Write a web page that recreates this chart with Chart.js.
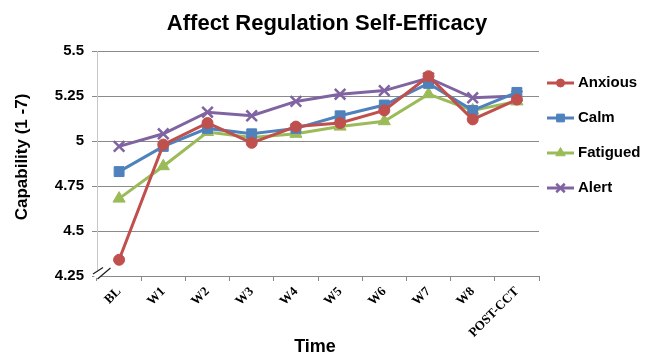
<!DOCTYPE html>
<html>
<head>
<meta charset="utf-8">
<script src="https://cdn.jsdelivr.net/npm/chart.js@4/dist/chart.umd.min.js"></script>
<style>
  html, body { margin: 0; padding: 0; background: #ffffff; }
  #wrap { width: 647px; height: 358px; position: relative; }
</style>
</head>
<body>
<div id="wrap"><canvas id="c" width="647" height="358"></canvas></div>
<script>
// Session labels along the time axis
const timepoints = ['BL', 'W1', 'W2', 'W3', 'W4', 'W5', 'W6', 'W7', 'W8', 'POST-CCT'];

// Mean self-efficacy ratings per mood state
const anxious  = [4.34, 4.98, 5.10, 4.99, 5.08, 5.10, 5.17, 5.36, 5.12, 5.23];
const calm     = [4.83, 4.97, 5.07, 5.04, 5.07, 5.14, 5.20, 5.32, 5.17, 5.27];
const fatigued = [4.68, 4.86, 5.05, 5.02, 5.04, 5.08, 5.11, 5.26, 5.17, 5.22];
const alert    = [4.97, 5.04, 5.16, 5.14, 5.22, 5.26, 5.28, 5.35, 5.24, 5.25];

const yTicks = [4.25, 4.5, 4.75, 5, 5.25, 5.5];

const SANS = '"Liberation Sans", Arial, sans-serif';
const SERIF = '"Liberation Serif", "Times New Roman", serif';

function series(label, data, color, style, radius) {
  return {
    label, data,
    borderColor: color,
    backgroundColor: color,
    borderWidth: 3,
    pointStyle: style,
    pointRadius: radius,
    pointHoverRadius: radius,
    pointBorderColor: color,
    pointBackgroundColor: color,
    pointBorderWidth: style === 'crossRot' ? 2.5 : 1,
    tension: 0
  };
}

const datasets = [
  series('Anxious', anxious, '#C0504D', 'circle', 5.5),
  series('Calm', calm, '#4F81BD', 'rect', 7),
  series('Fatigued', fatigued, '#9BBB59', 'triangle', 7),
  series('Alert', alert, '#8064A2', 'crossRot', 7.5)
];

// Legend marker: a short line with the series' point symbol on it
function legendMarker(ctx, ds, x, y) {
  ctx.save();
  ctx.strokeStyle = ds.borderColor;
  ctx.fillStyle = ds.backgroundColor;
  ctx.lineWidth = 3;
  ctx.beginPath();
  ctx.moveTo(x, y);
  ctx.lineTo(x + 27, y);
  ctx.stroke();
  ctx.lineWidth = ds.pointBorderWidth;
  Chart.helpers.drawPoint(ctx, {
    pointStyle: ds.pointStyle,
    radius: ds.pointRadius - 1.5,
    borderWidth: ds.pointBorderWidth,
    rotation: 0
  }, x + 13.5, y);
  ctx.restore();
}

// Titles, legend and the axis-break marks are painted on top of the chart
const decorations = {
  id: 'decorations',
  afterDraw(chart) {
    const ctx = chart.ctx;
    const a = chart.chartArea;
    ctx.save();

    // chart title
    ctx.fillStyle = '#000';
    ctx.font = 'bold 22px ' + SANS;
    ctx.textAlign = 'center';
    ctx.textBaseline = 'middle';
    ctx.fillText('Affect Regulation Self-Efficacy', 327, 24);

    // x-axis title
    ctx.font = 'bold 18px ' + SANS;
    ctx.fillText('Time', 315, 347);

    // y-axis title
    ctx.save();
    ctx.translate(22, 157);
    ctx.rotate(-Math.PI / 2);
    ctx.font = 'bold 17px ' + SANS;
    ctx.fillText('Capability (1 -7)', 0, 0);
    ctx.restore();

    // axis break
    ctx.fillStyle = '#fff';
    ctx.beginPath();
    ctx.moveTo(a.left - 5, a.bottom - 1);
    ctx.lineTo(a.left + 5, a.bottom - 9);
    ctx.lineTo(a.left + 14, a.bottom - 8);
    ctx.lineTo(a.left + 1, a.bottom + 3);
    ctx.closePath();
    ctx.fill();
    ctx.strokeStyle = '#222';
    ctx.lineWidth = 1.3;
    ctx.beginPath();
    ctx.moveTo(a.left - 4, a.bottom - 2);
    ctx.lineTo(a.left + 6, a.bottom - 8.5);
    ctx.moveTo(a.left + 0.5, a.bottom + 3);
    ctx.lineTo(a.left + 13.5, a.bottom - 8);
    ctx.stroke();

    // legend
    const lx = 547, ly0 = 83, step = 35;
    chart.data.datasets.forEach((ds, i) => {
      const y = ly0 + i * step;
      legendMarker(ctx, ds, lx, y);
      ctx.fillStyle = '#000';
      ctx.font = 'bold 15px ' + SANS;
      ctx.textAlign = 'left';
      ctx.textBaseline = 'middle';
      ctx.fillText(ds.label, lx + 31, y);
    });
    ctx.restore();
  }
};

new Chart(document.getElementById('c'), {
  type: 'line',
  data: { labels: timepoints, datasets },
  plugins: [decorations],
  options: {
    responsive: false,
    animation: false,
    devicePixelRatio: 1,
    layout: { padding: { top: 51, right: 108, bottom: 0, left: 0 } },
    plugins: {
      legend: { display: false },
      title: { display: false },
      tooltip: { enabled: false }
    },
    scales: {
      x: {
        offset: true,
        grid: {
          offset: true,
          drawOnChartArea: false,
          drawTicks: true,
          tickLength: 5,
          color: '#888'
        },
        border: { color: '#888', width: 1 },
        ticks: {
          color: '#000',
          font: { family: SERIF, size: 13, weight: 'bold' },
          minRotation: 45,
          maxRotation: 45,
          padding: 3,
          autoSkip: false
        },
        afterFit(scale) { scale.height = 82; }
      },
      y: {
        min: 4.25,
        max: 5.5,
        afterBuildTicks(scale) { scale.ticks = yTicks.map(v => ({ value: v })); },
        grid: {
          color: '#8a8a8a',
          lineWidth: 1,
          tickLength: 5,
          drawTicks: true
        },
        border: { color: '#c8c8c8', width: 1 },
        ticks: {
          color: '#000',
          font: { family: SANS, size: 15, weight: 'bold' },
          padding: 8,
          callback: v => String(v)
        },
        afterFit(scale) { scale.width = 97; }
      }
    }
  }
});
</script>
</body>
</html>
